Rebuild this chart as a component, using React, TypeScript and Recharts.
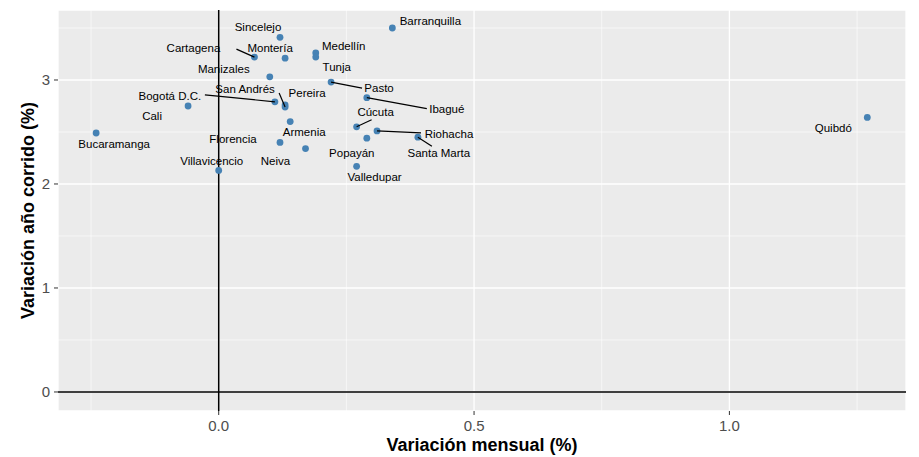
import { ScatterChart, Scatter, XAxis, YAxis, CartesianGrid, ReferenceLine } from 'recharts'

const ciudades = [
    'Barranquilla', 'Sincelejo', 'Cartagena', 'Montería', 'Medellín', 'Tunja',
    'Manizales', 'Pasto', 'Ibagué', 'Bogotá D.C.', 'Pereira', 'San Andrés',
    'Cali', 'Bucaramanga', 'Armenia', 'Florencia', 'Neiva', 'Villavicencio',
    'Cúcuta', 'Riohacha', 'Popayán', 'Santa Marta', 'Valledupar', 'Quibdó',
]
const varMensual = [
    0.34, 0.12, 0.07, 0.13, 0.19, 0.19,
    0.10, 0.22, 0.29, 0.11, 0.13, 0.13,
    -0.06, -0.24, 0.14, 0.12, 0.17, 0.00,
    0.27, 0.31, 0.29, 0.39, 0.27, 1.27,
]
const varAnoCorrido = [
    3.50, 3.41, 3.22, 3.21, 3.26, 3.22,
    3.03, 2.98, 2.83, 2.79, 2.76, 2.74,
    2.75, 2.49, 2.60, 2.40, 2.34, 2.13,
    2.55, 2.51, 2.44, 2.45, 2.17, 2.64,
]
const xTicks = [0, 0.5, 1.0]
const yTicks = [0, 1, 2, 3]
const xMinor = [-0.25, 0.25, 0.75, 1.25]
const yMinor = [0.5, 1.5, 2.5, 3.5]

// posición de cada etiqueta respecto a su punto (px): [dx, dy, segmentoX, segmentoY]
const etiquetas: Record<string, number[]> = {
    'Barranquilla': [38, -7],
    'Sincelejo': [-22, -10],
    'Cartagena': [-61, -9, -18, -8],
    'Montería': [-15, -10],
    'Medellín': [28, -7],
    'Tunja': [21, 10],
    'Manizales': [-46, -8],
    'Pasto': [48, 6, 31, 6],
    'Ibagué': [80, 11, 60, 11],
    'Bogotá D.C.': [-105, -6, -70, -7],
    'Pereira': [22, -12],
    'San Andrés': [-40, -18, -6, -14],
    'Cali': [-36, 10],
    'Bucaramanga': [18, 11],
    'Armenia': [14, 10],
    'Florencia': [-47, -3],
    'Neiva': [-30, 12],
    'Villavicencio': [-7, -9],
    'Cúcuta': [19, -15, 15, -7],
    'Riohacha': [72, 3, 44, 2],
    'Popayán': [-15, 15],
    'Santa Marta': [21, 16, 14, 9],
    'Valledupar': [18, 11],
    'Quibdó': [-34, 11],
}

const data = ciudades.map((ciudad, i) => ({ ciudad, x: varMensual[i], y: varAnoCorrido[i] }))

const Punto = (props: any) => {
    const { cx, cy } = props
    return <circle cx={cx} cy={cy} r={3.4} fill="#4682B4" />
}

const Etiqueta = (props: any) => {
    const { cx, cy, payload } = props
    const [dx, dy, sx, sy] = etiquetas[payload.ciudad] || [0, -10]
    return (
        <g>
            {sx !== undefined && (
                <line x1={cx} y1={cy} x2={cx + sx} y2={cy + sy} stroke="#000" strokeWidth={1.2} />
            )}
            <text x={cx + dx} y={cy + dy} dy="0.35em" textAnchor="middle" fontSize={11.5} fill="#000">
                {payload.ciudad}
            </text>
        </g>
    )
}

export default function App() {
    return (
        <div style={{ position: 'absolute', left: 0, top: 0, width: 919, height: 457, background: '#fff', fontFamily: '"Liberation Sans", Arial, sans-serif' }}>
            <ScatterChart width={919} height={457} margin={{ top: 10, right: 13, left: 0, bottom: 0 }}>
                <CartesianGrid fill="#EBEBEB" fillOpacity={1} stroke="#fff" strokeWidth={1.3} />
                {xMinor.map(v => <ReferenceLine key={'x' + v} x={v} stroke="#fff" strokeWidth={0.6} />)}
                {yMinor.map(v => <ReferenceLine key={'y' + v} y={v} stroke="#fff" strokeWidth={0.6} />)}
                <XAxis
                    type="number"
                    dataKey="x"
                    domain={[-0.3147, 1.3458]}
                    ticks={xTicks}
                    allowDataOverflow
                    tickFormatter={(v: number) => v.toFixed(1)}
                    height={46}
                    axisLine={false}
                    tickSize={4}
                    tickMargin={5}
                    tickLine={{ stroke: '#333' }}
                    tick={{ fill: '#4D4D4D', fontSize: 15 }}
                    label={{ value: 'Variación mensual (%)', position: 'insideBottom', offset: 6, fill: '#000', fontSize: 18, fontWeight: 'bold' }}
                />
                <YAxis
                    type="number"
                    dataKey="y"
                    domain={[-0.183, 3.673]}
                    ticks={yTicks}
                    allowDataOverflow
                    width={58}
                    axisLine={false}
                    tickSize={4}
                    tickMargin={4}
                    tickLine={{ stroke: '#333' }}
                    tick={{ fill: '#4D4D4D', fontSize: 15 }}
                    label={{ value: 'Variación año corrido (%)', angle: -90, position: 'insideLeft', offset: 28, fill: '#000', fontSize: 18, fontWeight: 'bold', style: { textAnchor: 'middle' } }}
                />
                <ReferenceLine x={0} stroke="#000" strokeWidth={1.5} />
                <ReferenceLine y={0} stroke="#000" strokeWidth={1.5} />
                <Scatter data={data} shape={Punto} isAnimationActive={false} />
                <Scatter data={data} shape={Etiqueta} isAnimationActive={false} />
            </ScatterChart>
        </div>
    )
}
